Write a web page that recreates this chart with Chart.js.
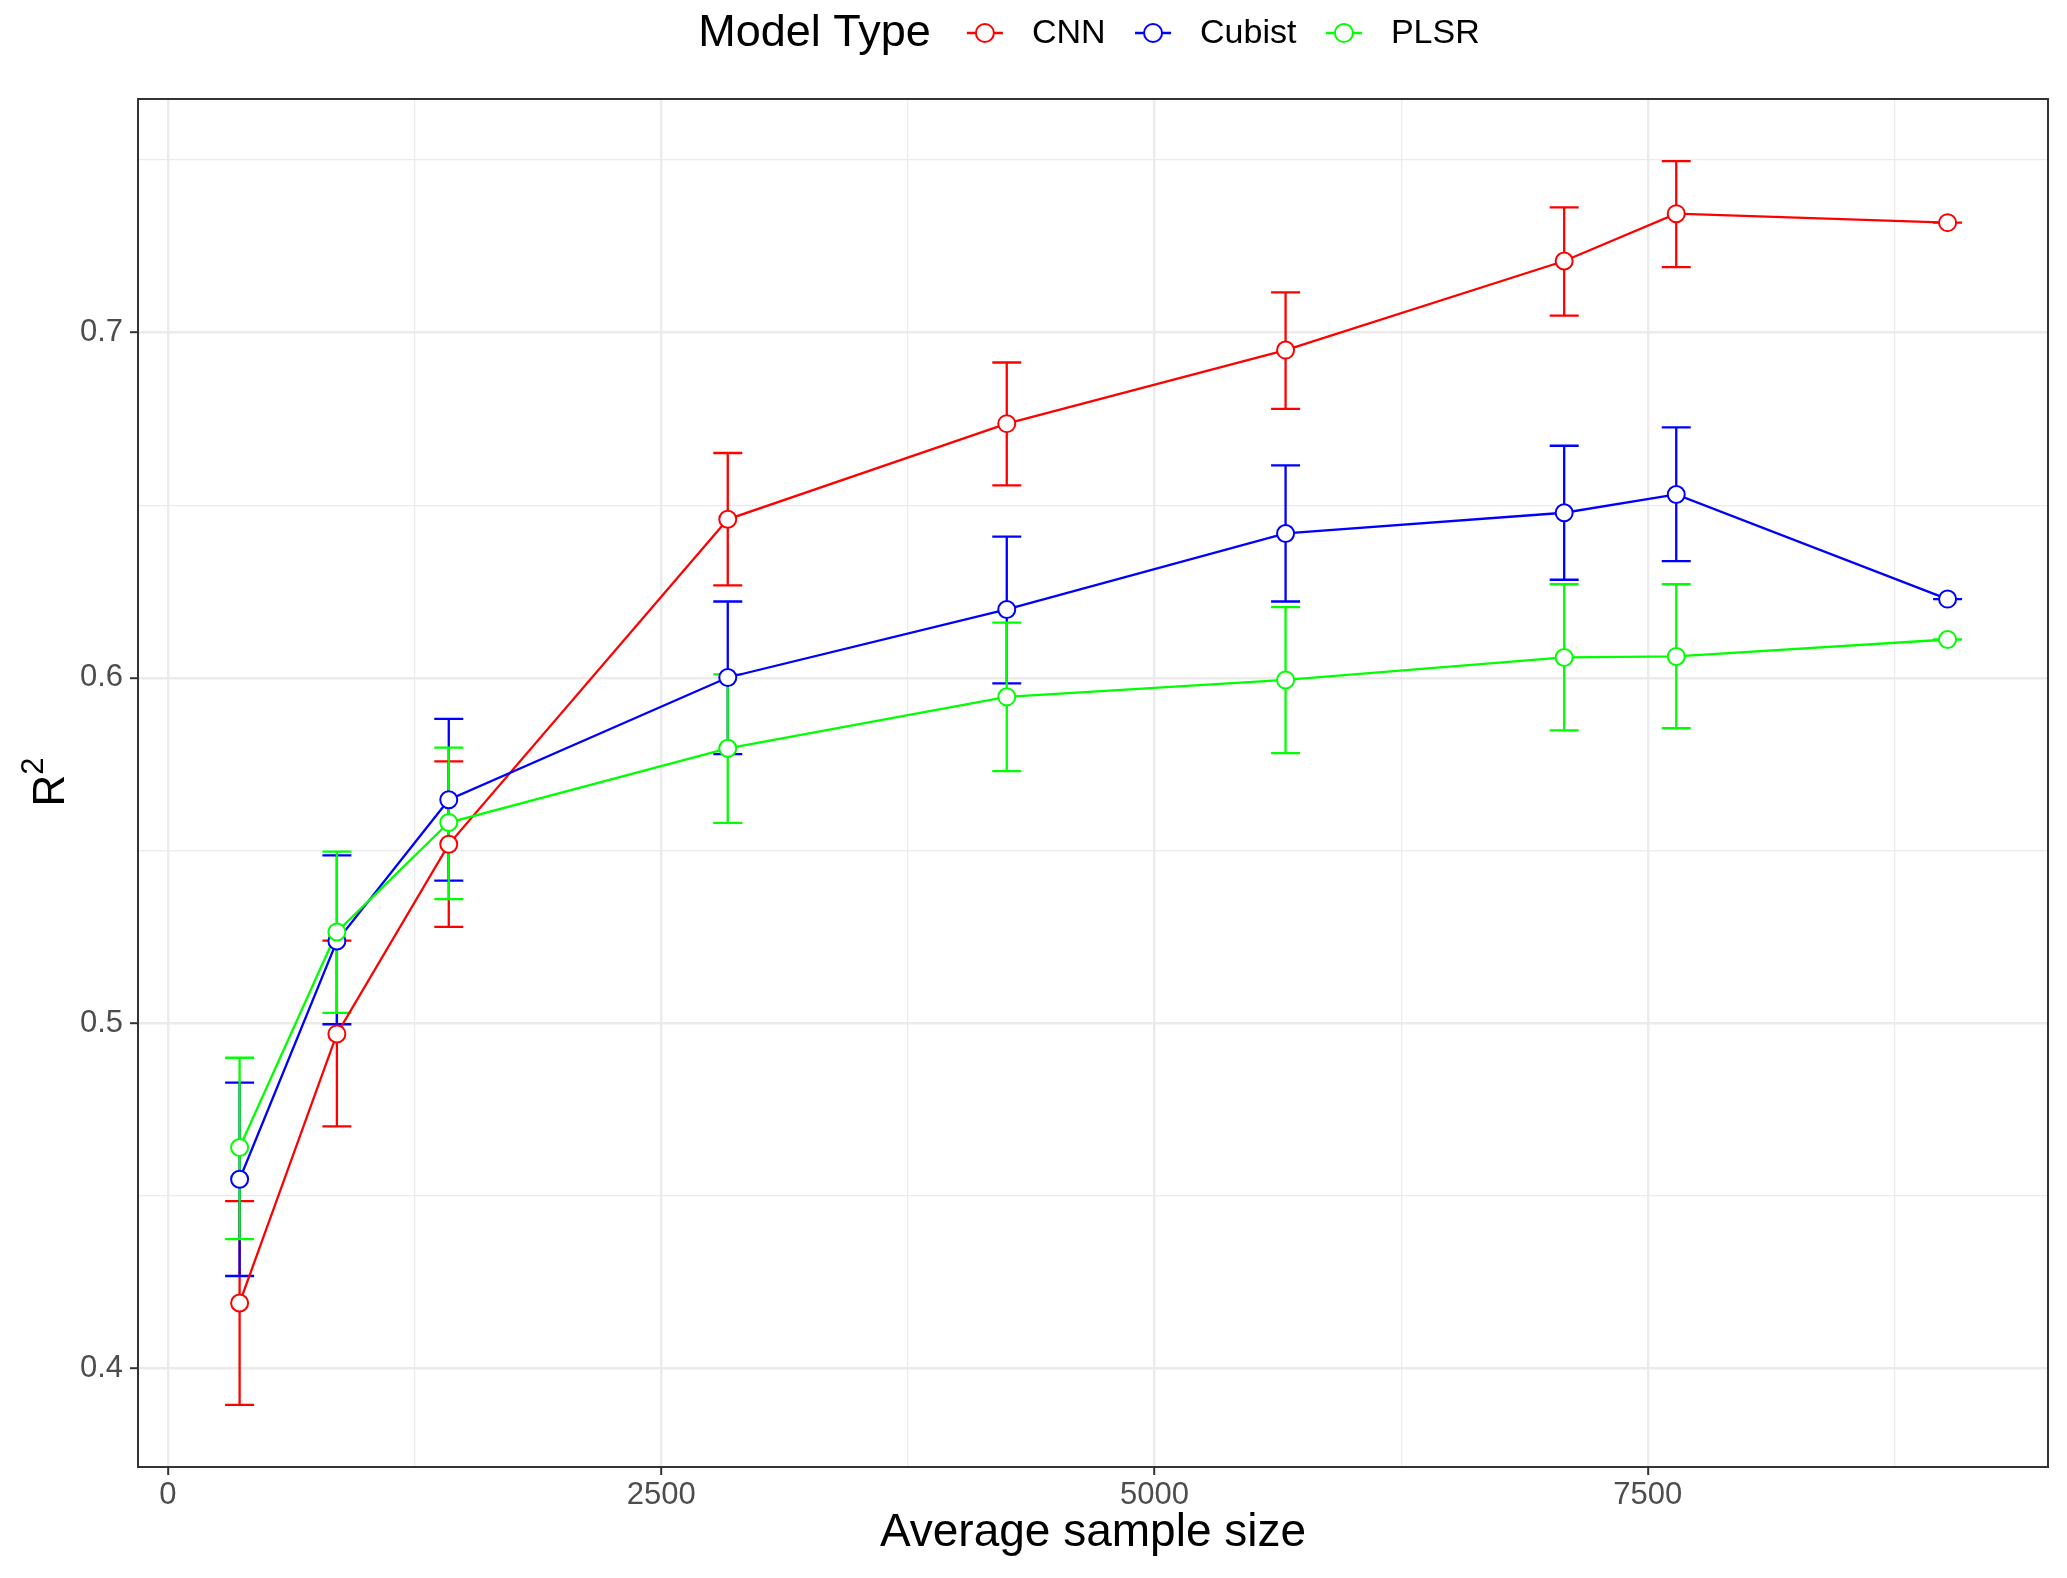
<!DOCTYPE html>
<html><head><meta charset="utf-8">
<script src="https://cdn.jsdelivr.net/npm/chart.js@4.4.1/dist/chart.umd.min.js"></script>
<style>html,body{margin:0;padding:0;background:#fff;} canvas{display:block;}</style>
</head><body>
<canvas id="c" width="2067" height="1578"></canvas>
<script>
// ---- data ----
const sampleSize = [363, 856, 1423, 2837, 4251, 5664, 7076, 7644, 9019];

const cnnR2    = [0.4190, 0.4969, 0.5518, 0.6459, 0.6736, 0.6949, 0.7207, 0.7344, 0.7318];
const cnnLow   = [0.3895, 0.4701, 0.5279, 0.6268, 0.6557, 0.6779, 0.7049, 0.7189, 0.7318];
const cnnHigh  = [0.4485, 0.5239, 0.5758, 0.6651, 0.6913, 0.7116, 0.7362, 0.7496, 0.7318];

const cubistR2   = [0.4548, 0.5238, 0.5647, 0.6001, 0.6198, 0.6418, 0.6478, 0.6531, 0.6228];
const cubistLow  = [0.4268, 0.4997, 0.5413, 0.5779, 0.5984, 0.6221, 0.6284, 0.6338, 0.6228];
const cubistHigh = [0.4828, 0.5486, 0.5881, 0.6221, 0.6409, 0.6615, 0.6672, 0.6725, 0.6228];

const plsrR2   = [0.4640, 0.5264, 0.5581, 0.5796, 0.5945, 0.5994, 0.6059, 0.6062, 0.6111];
const plsrLow  = [0.4375, 0.5030, 0.5359, 0.5580, 0.5730, 0.5782, 0.5848, 0.5854, 0.6111];
const plsrHigh = [0.4900, 0.5497, 0.5798, 0.6010, 0.6160, 0.6205, 0.6271, 0.6271, 0.6111];

const seriesNames = ['CNN', 'Cubist', 'PLSR'];
const legendTitle = 'Model Type';
const xTitle = 'Average sample size';
const yTitleBase = 'R';
const yTitleSup = '2';

const xMajorTicks = [0, 2500, 5000, 7500];
const xMinorTicks = [1250, 3750, 6250, 8750];
const yMajorTicks = [0.4, 0.5, 0.6, 0.7];
const yMinorTicks = [0.45, 0.55, 0.65, 0.75];

// ---- styles ----
const FONT = '"Liberation Sans", Arial, Helvetica, sans-serif';
const colors = ['#FF0000', '#0000FF', '#00FF00'];
const GRID = '#EBEBEB';
const DARK = '#333333';

const series = [
  {name: seriesNames[0], y: cnnR2, lo: cnnLow, hi: cnnHigh, color: colors[0]},
  {name: seriesNames[1], y: cubistR2, lo: cubistLow, hi: cubistHigh, color: colors[1]},
  {name: seriesNames[2], y: plsrR2, lo: plsrLow, hi: plsrHigh, color: colors[2]}
];

const toPts = (ys) => sampleSize.map((x, i) => ({x: x, y: ys[i]}));
const isMajor = (v, arr) => arr.some(m => Math.abs(m - v) < 1e-9);

const datasets = [];
series.forEach((s, k) => {
  datasets.push({
    label: s.name + ' line', data: toPts(s.y), showLine: true,
    borderColor: s.color, borderWidth: 2.3, pointRadius: 0, fill: false,
    order: 60 - k * 10
  });
});
series.forEach((s, k) => {
  datasets.push({
    label: s.name, data: toPts(s.y), showLine: false,
    pointRadius: 8.5, pointBorderWidth: 2, pointBackgroundColor: '#FFFFFF',
    pointBorderColor: s.color, borderColor: s.color,
    order: 30 - k * 10
  });
});

const errorBarPlugin = {
  id: 'errorBars',
  beforeDatasetsDraw(chart) {
    const {ctx, chartArea: a, scales: {x, y}} = chart;
    ctx.save();
    ctx.beginPath();
    ctx.rect(a.left, a.top, a.right - a.left, a.bottom - a.top);
    ctx.clip();
    ctx.lineWidth = 2.3;
    ctx.lineCap = 'butt';
    const hw = 14.5;
    series.forEach(s => {
      ctx.strokeStyle = s.color;
      sampleSize.forEach((xv, i) => {
        const px = x.getPixelForValue(xv);
        const pl = y.getPixelForValue(s.lo[i]);
        const ph = y.getPixelForValue(s.hi[i]);
        ctx.beginPath();
        ctx.moveTo(px, ph); ctx.lineTo(px, pl);
        ctx.moveTo(px - hw, ph); ctx.lineTo(px + hw, ph);
        ctx.moveTo(px - hw, pl); ctx.lineTo(px + hw, pl);
        ctx.stroke();
      });
    });
    ctx.restore();
  },
  afterDatasetsDraw(chart) {
    const {ctx, chartArea: a} = chart;
    ctx.save();
    ctx.strokeStyle = DARK;
    ctx.lineWidth = 2;
    ctx.strokeRect(a.left, a.top, a.right - a.left, a.bottom - a.top);
    ctx.restore();
  }
};

const titlesPlugin = {
  id: 'ggTitles',
  afterDraw(chart) {
    const {ctx, chartArea: a} = chart;
    ctx.save();
    // y-axis title R^2, rotated
    const baseFont = '44px ' + FONT, supFont = '31px ' + FONT;
    ctx.font = baseFont;
    const wR = ctx.measureText(yTitleBase).width;
    ctx.font = supFont;
    const w2 = ctx.measureText(yTitleSup).width;
    const cy = (a.top + a.bottom) / 2 - 1;
    ctx.translate(63.5, cy);
    ctx.rotate(-Math.PI / 2);
    ctx.fillStyle = '#000';
    ctx.textBaseline = 'alphabetic';
    ctx.textAlign = 'left';
    const start = -(wR + w2) / 2;
    ctx.font = baseFont;
    ctx.fillText(yTitleBase, start, 0);
    ctx.font = supFont;
    ctx.fillText(yTitleSup, start + wR, -21);
    ctx.restore();

    // legend
    ctx.save();
    const titleFont = '45px ' + FONT;
    const labelFont = '34px ' + FONT;
    ctx.font = titleFont;
    const tw = ctx.measureText(legendTitle).width;
    ctx.font = labelFont;
    const lws = series.map(s => ctx.measureText(s.name).width);
    const keyW = 36, gapTitle = 36, gapKey = 29, gapItem = 29.5;
    const total = tw + gapTitle + series.length * (keyW + gapKey) + lws.reduce((p, c) => p + c, 0) + (series.length - 1) * gapItem;
    let xpos = (a.left + a.right) / 2 - total / 2 - 4;
    const yc = 34;
    ctx.textBaseline = 'middle';
    ctx.textAlign = 'left';
    ctx.fillStyle = '#000';
    ctx.font = titleFont;
    ctx.fillText(legendTitle, xpos, yc);
    xpos += tw + gapTitle;
    series.forEach((s, k) => {
      const ky = 33;
      ctx.strokeStyle = s.color;
      ctx.lineWidth = 2.3;
      ctx.beginPath();
      ctx.moveTo(xpos, ky); ctx.lineTo(xpos + keyW, ky);
      ctx.stroke();
      ctx.beginPath();
      ctx.arc(xpos + keyW / 2, ky, 9, 0, Math.PI * 2);
      ctx.fillStyle = '#fff';
      ctx.fill();
      ctx.lineWidth = 2;
      ctx.stroke();
      xpos += keyW + gapKey;
      ctx.fillStyle = '#000';
      ctx.font = labelFont;
      ctx.fillText(s.name, xpos, yc);
      xpos += lws[k] + gapItem;
    });
    ctx.restore();
  }
};

Chart.defaults.font.family = FONT;

new Chart(document.getElementById('c'), {
  type: 'scatter',
  data: {datasets: datasets},
  plugins: [errorBarPlugin, titlesPlugin],
  options: {
    responsive: false,
    animation: false,
    events: [],
    layout: {padding: {top: 99, right: 19, left: 0, bottom: 0}},
    plugins: {legend: {display: false}, tooltip: {enabled: false}},
    scales: {
      x: {
        type: 'linear', position: 'bottom', min: -152, max: 9528,
        afterBuildTicks: (sc) => {
          sc.ticks = xMajorTicks.concat(xMinorTicks).sort((p, q) => p - q).map(v => ({value: v}));
        },
        afterFit: (sc) => { sc.height = 111; },
        ticks: {
          autoSkip: false, maxRotation: 0, padding: 2, color: '#4D4D4D',
          font: {size: 31},
          callback: (v) => isMajor(v, xMajorTicks) ? String(v) : ''
        },
        grid: {
          color: GRID,
          lineWidth: (c) => (c.tick && isMajor(c.tick.value, xMajorTicks)) ? 2.4 : 1.2,
          tickLength: 8, tickWidth: 2,
          tickColor: (c) => (c.tick && isMajor(c.tick.value, xMajorTicks)) ? DARK : 'rgba(0,0,0,0)'
        },
        border: {display: false},
        title: {display: true, text: xTitle, color: '#000', font: {size: 46}, padding: {top: 0, bottom: 17}}
      },
      y: {
        type: 'linear', position: 'left', min: 0.3715, max: 0.7676,
        afterBuildTicks: (sc) => {
          sc.ticks = yMajorTicks.concat(yMinorTicks).sort((p, q) => p - q).map(v => ({value: v}));
        },
        afterFit: (sc) => { sc.width = 138; },
        ticks: {
          autoSkip: false, padding: 7, color: '#4D4D4D',
          font: {size: 31},
          callback: (v) => isMajor(v, yMajorTicks) ? v.toFixed(1) : ''
        },
        grid: {
          color: GRID,
          lineWidth: (c) => (c.tick && isMajor(c.tick.value, yMajorTicks)) ? 2.4 : 1.2,
          tickLength: 8, tickWidth: 2,
          tickColor: (c) => (c.tick && isMajor(c.tick.value, yMajorTicks)) ? DARK : 'rgba(0,0,0,0)'
        },
        border: {display: false},
        title: {display: false}
      }
    }
  }
});
</script>
</body></html>
